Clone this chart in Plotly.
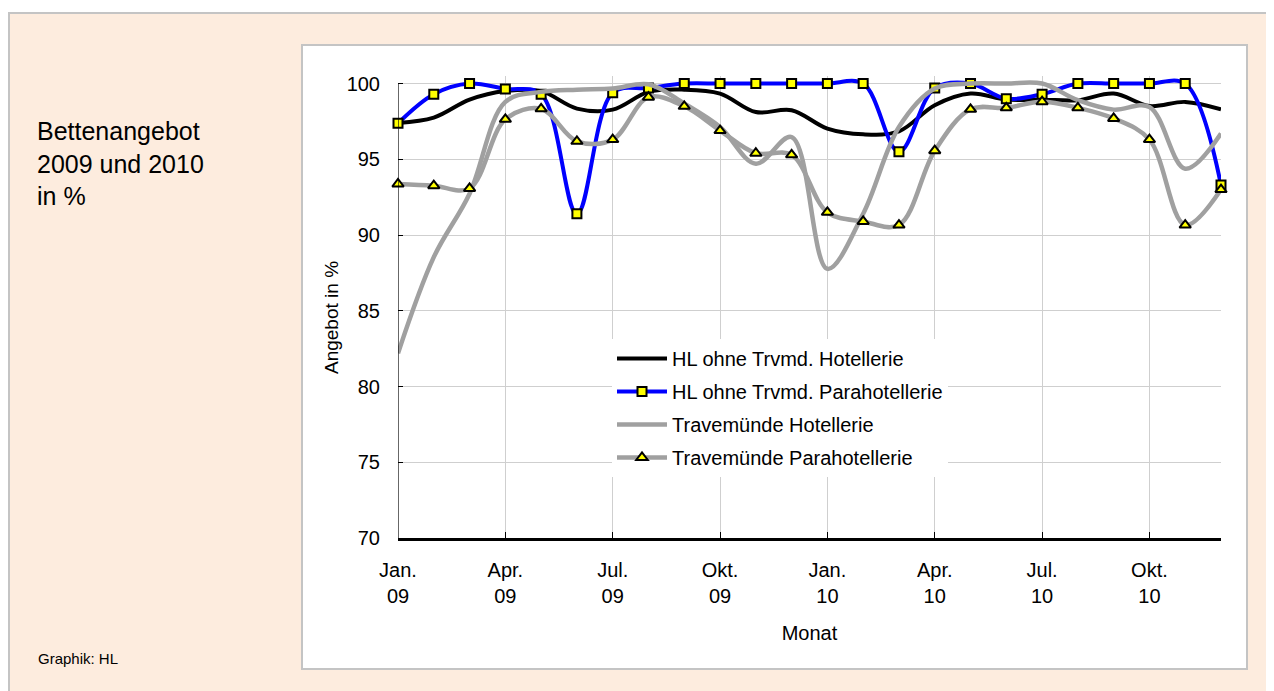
import plotly.graph_objects as go

# ---- data ----
months = list(range(24))
tick_pos = [0, 3, 6, 9, 12, 15, 18, 21]
tick_labels = ["Jan.<br>09", "Apr.<br>09", "Jul.<br>09", "Okt.<br>09",
               "Jan.<br>10", "Apr.<br>10", "Jul.<br>10", "Okt.<br>10"]

hl_hotel = [97.4, 97.75, 98.94, 99.51, 99.5, 98.35, 98.28, 99.45, 99.6, 99.34, 98.12, 98.24,
            97.03, 96.65, 96.85, 98.57, 99.34, 98.94, 98.94, 98.9, 99.34, 98.52, 98.79, 98.3]
hl_para = [97.38, 99.3, 100.0, 99.65, 99.3, 91.4, 99.4, 99.7, 100.0, 100.0, 100.0, 100.0,
           100.0, 100.0, 95.5, 99.7, 100.0, 99.0, 99.3, 100.0, 100.0, 100.0, 100.0, 93.3]
trav_hotel = [82.2, 88.54, 92.73, 98.79, 99.45, 99.6, 99.67, 99.95, 98.68, 97.13, 94.71, 96.47,
              87.77, 91.41, 97.13, 99.67, 100.0, 100.0, 100.0, 98.9, 98.28, 98.46, 94.38, 96.7]
trav_para = [93.37, 93.26, 93.08, 97.64, 98.33, 96.19, 96.3, 99.1, 98.5, 96.9, 95.4, 95.3,
             91.5, 90.9, 90.66, 95.57, 98.3, 98.4, 98.8, 98.4, 97.7, 96.3, 90.66, 93.0]

names = ["HL ohne Trvmd. Hotellerie", "HL ohne Trvmd. Parahotellerie",
         "Travemünde Hotellerie", "Travemünde Parahotellerie"]

# ---- layout geometry (page body has an 8px margin) ----
OFF = 8
W, H = 1274 - OFF, 691 - OFF
L = 398 - OFF
R = W - (1221 - OFF)
T = 76 - OFF
B = 153
PW, PH = W - L - R, H - T - B


def px(x):
    """page x (reference pixels) -> paper fraction"""
    return (x - OFF - L) / PW


def py(y):
    """page y (reference pixels) -> paper fraction"""
    return (H - B - (y - OFF)) / PH


FONT = "Arial, Liberation Sans, sans-serif"
GRAY = "#A0A0A0"

fig = go.Figure()
fig.add_trace(go.Scatter(x=months, y=hl_hotel, name=names[0], mode="lines", legendgroup="a",
                         line=dict(color="black", width=4, shape="spline", smoothing=1.0)))
fig.add_trace(go.Scatter(x=months, y=hl_para, name=names[1], mode="lines+markers", legendgroup="b",
                         line=dict(color="#0000FF", width=4, shape="spline", smoothing=1.0),
                         marker=dict(symbol="square", size=9, color="#FFFF00",
                                     line=dict(color="black", width=2)),
                         cliponaxis=False))
fig.add_trace(go.Scatter(x=months, y=trav_hotel, name=names[2], mode="lines", legendgroup="c",
                         line=dict(color=GRAY, width=4.5, shape="spline", smoothing=1.0)))
fig.add_trace(go.Scatter(x=months, y=trav_para, name=names[3], mode="lines+markers", legendgroup="d",
                         line=dict(color=GRAY, width=4.5, shape="spline", smoothing=1.0),
                         marker=dict(symbol="triangle-up", size=10, color="#FFFF00",
                                     line=dict(color="black", width=2)),
                         cliponaxis=False))

shapes = [
    # outer beige panel
    dict(type="rect", xref="paper", yref="paper", x0=px(9), x1=px(1300), y0=py(13), y1=py(720),
         fillcolor="#FDECDE", line=dict(color="#C4C4C4", width=2), layer="below"),
    # white chart box
    dict(type="rect", xref="paper", yref="paper", x0=px(302), x1=px(1247), y0=py(45), y1=py(669),
         fillcolor="white", line=dict(color="#C4C4C4", width=2), layer="below"),
    # y axis line (only 70..100)
    dict(type="line", xref="x", yref="y", x0=0, x1=0, y0=70, y1=100,
         line=dict(color="black", width=1.2)),
]

annotations = [
    dict(text="Bettenangebot<br>2009 und 2010<br>in %", xref="paper", yref="paper",
         x=px(35), y=py(163), xanchor="left", yanchor="middle", align="left",
         showarrow=False, font=dict(family=FONT, size=25, color="black")),
    dict(text="Graphik: HL", xref="paper", yref="paper",
         x=px(36), y=py(658), xanchor="left", yanchor="middle", align="left",
         showarrow=False, font=dict(family=FONT, size=15, color="black")),
    dict(text="Angebot in %", xref="paper", yref="paper", textangle=-90,
         x=px(331), y=py(318), xanchor="center", yanchor="middle",
         showarrow=False, font=dict(family=FONT, size=19, color="black")),
]

fig.update_layout(
    width=W, height=H,
    margin=dict(l=L, r=R, t=T, b=B, autoexpand=False),
    paper_bgcolor="white", plot_bgcolor="rgba(0,0,0,0)",
    font=dict(family=FONT, size=20, color="black"),
    shapes=shapes, annotations=annotations,
    showlegend=True,
    legend=dict(x=px(612), y=py(339), xanchor="left", yanchor="top",
                bgcolor="white", borderwidth=0, font=dict(family=FONT, size=20),
                itemwidth=50, tracegroupgap=4),
    xaxis=dict(range=[0, 23], tickmode="array", tickvals=tick_pos, ticktext=tick_labels,
               showgrid=True, gridcolor="#CFCFCF", gridwidth=1,
               showline=True, linecolor="black", linewidth=2.5,
               ticks="inside", ticklen=6, tickcolor="black", tickwidth=1,
               ticklabelstandoff=12, zeroline=False,
               title=dict(text="Monat", standoff=21, font=dict(family=FONT, size=20))),
    yaxis=dict(range=[70, 100.5], tickmode="array", tickvals=[70, 75, 80, 85, 90, 95, 100],
               showgrid=True, gridcolor="#CFCFCF", gridwidth=1,
               showline=False, zeroline=False,
               ticks="inside", ticklen=5, tickcolor="black", tickwidth=1,
               ticklabelstandoff=17),
)

fig.write_html("out.html")
